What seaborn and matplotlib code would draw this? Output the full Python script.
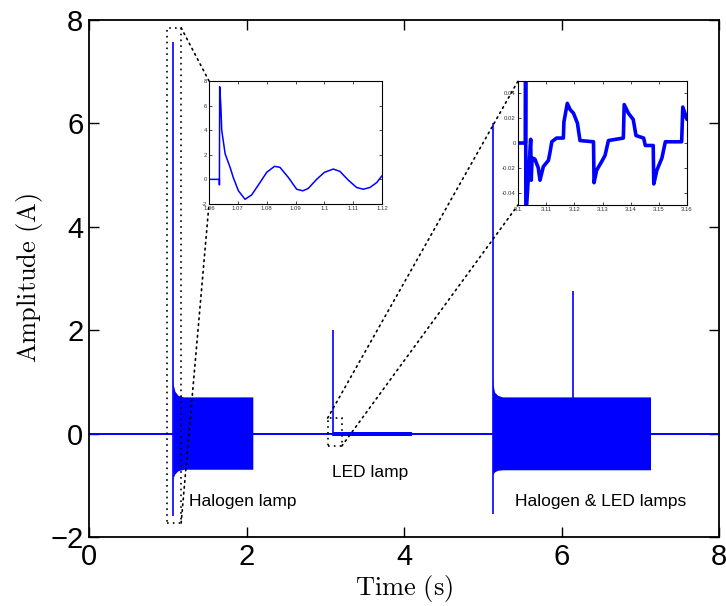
import numpy as np
import pandas as pd
import matplotlib
matplotlib.use('Agg')
import matplotlib.pyplot as plt
from matplotlib.patches import Rectangle, ConnectionPatch
import seaborn as sns

sns.set_style('ticks', {'axes.edgecolor': 'black', 'xtick.color': 'black',
                        'ytick.color': 'black', 'text.color': 'black',
                        'axes.labelcolor': 'black'})
plt.rcParams['font.family'] = ['Liberation Sans', 'DejaVu Sans']
plt.rcParams['mathtext.fontset'] = 'cm'

BLUE = '#0000ff'
DOTS = (0, (1, 2.5))

# main trace: spikes (time, low, high)
spike_t = [1.064, 3.10, 5.125, 6.14]
spike_lo = [-1.6, -0.05, -1.55, 0.0]
spike_hi = [7.57, 2.0, 6.0, 2.75]

# oscillating bands (envelopes)
halo_t = [1.064, 1.07, 1.09, 1.13, 1.2, 2.08]
halo_up = [1.05, 0.95, 0.82, 0.74, 0.71, 0.71]
halo_lo = [-0.95, -0.85, -0.78, -0.72, -0.69, -0.69]

led_t = [3.10, 4.10]
led_up = [0.04, 0.04]
led_lo = [-0.04, -0.04]

both_t = [5.125, 5.13, 5.15, 5.19, 5.25, 7.13]
both_up = [1.1, 0.95, 0.8, 0.74, 0.71, 0.71]
both_lo = [-0.8, -0.78, -0.74, -0.71, -0.70, -0.70]

# inset 1: halogen turn-on
in1_t = [1.06, 1.0636, 1.0636, 1.0637, 1.0641, 1.0644, 1.0656, 1.0673, 1.0684,
         1.0702, 1.0725, 1.0748, 1.0777, 1.08, 1.0827, 1.0846, 1.0875, 1.0904,
         1.0925, 1.0944, 1.0974, 1.10, 1.1031, 1.1054, 1.1083, 1.1112, 1.1135,
         1.1158, 1.1182, 1.12]
in1_y = [0.0, 0.0, -0.45, 7.53, 6.0, 4.0, 2.07, 0.98, 0.16,
         -0.93, -1.62, -1.26, -0.25, 0.57, 1.06, 0.98, 0.16, -0.8,
         -0.93, -0.74, 0.02, 0.57, 0.84, 0.65, -0.06, -0.66, -0.8,
         -0.66, -0.25, 0.3]

# inset 2: LED turn-on
in2_t = [3.10, 3.1026, 3.1027, 3.1028, 3.1045, 3.1047, 3.1050, 3.1060, 3.1072,
         3.1078, 3.1090, 3.1108, 3.1114, 3.1120, 3.1137, 3.1161, 3.1163, 3.1175,
         3.1185, 3.1197, 3.1211, 3.1220, 3.1268, 3.1270, 3.1279, 3.1297, 3.1309,
         3.1321, 3.1374, 3.1377, 3.1392, 3.1409, 3.1419, 3.1446, 3.1452, 3.1480,
         3.1482, 3.1493, 3.1511, 3.1523, 3.1581, 3.1585, 3.16]
in2_y = [0.0, 0.0, 0.06, -0.06, 0.003, -0.03, -0.012, -0.013, -0.02,
         -0.03, -0.019, -0.014, -0.007, 0.001, 0.004, 0.004, 0.017, 0.032,
         0.027, 0.024, 0.016, 0.002, 0.001, -0.032, -0.022, -0.015, -0.01,
         0.002, 0.004, 0.031, 0.024, 0.019, 0.006, 0.004, -0.002, -0.002,
         -0.033, -0.022, -0.012, 0.001, 0.001, 0.029, 0.019]

# zoom rectangles (x0, x1, y0, y1)
rect1 = [0.99, 1.17, -1.73, 7.85]
rect2 = [3.03, 3.21, -0.24, 0.30]

fig = plt.figure(figsize=(7.26, 6.06), dpi=100)
ax = fig.add_axes([0.1226, 0.1139, 0.8678, 0.853])

base = pd.DataFrame({'t': [0, 8], 'a': [0, 0]})
sns.lineplot(data=base, x='t', y='a', ax=ax, color=BLUE, lw=1.4,
             estimator=None, sort=False)
for bt, bu, bl in [(halo_t, halo_up, halo_lo), (led_t, led_up, led_lo),
                   (both_t, both_up, both_lo)]:
    ax.fill_between(bt, bl, bu, color=BLUE, lw=0)
ax.vlines(spike_t, spike_lo, spike_hi, color=BLUE, lw=1.2)

for r in (rect1, rect2):
    ax.add_patch(Rectangle((r[0], r[2]), r[1] - r[0], r[3] - r[2], fill=False,
                           ls=DOTS, lw=1.2, ec='black', zorder=5))

ax.set_xlim(0, 8)
ax.set_ylim(-2, 8)
ax.set_xticks([0, 2, 4, 6, 8])
ax.set_yticks([-2, 0, 2, 4, 6, 8])
ax.tick_params(direction='in', length=7, width=1, labelsize=21,
               top=True, right=True, pad=4, colors='black')
for s in ax.spines.values():
    s.set_linewidth(1.3)
    s.set_visible(True)
ax.set_xlabel(r'$\mathrm{Time\ (s)}$', fontsize=19, labelpad=2)
ax.set_ylabel(r'$\mathrm{Amplitude\ (A)}$', fontsize=19, labelpad=4)

ax.text(1.27, -1.32, 'Halogen lamp', fontsize=12.5, ha='left', va='center')
ax.text(3.57, -0.75, 'LED lamp', fontsize=12.5, ha='center', va='center')
ax.text(6.5, -1.32, 'Halogen & LED lamps', fontsize=12.5, ha='center', va='center')

# insets
ax1 = fig.add_axes([0.2879, 0.6634, 0.2383, 0.2030])
sns.lineplot(x=in1_t, y=in1_y, ax=ax1, color=BLUE, lw=1.1,
             estimator=None, sort=False)
ax1.set_xlim(1.06, 1.12)
ax1.set_ylim(-2, 8)
ax1.set_xticks([1.06, 1.07, 1.08, 1.09, 1.10, 1.11, 1.12])
ax1.set_xticklabels(['1.06', '1.07', '1.08', '1.09', '1.1', '1.11', '1.12'])
ax1.set_yticks([-2, 0, 2, 4, 6, 8])
ax1.set_yticklabels(['-2', '0', '2', '4', '6', '8'])

ax2 = fig.add_axes([0.7135, 0.6617, 0.2328, 0.2046])
sns.lineplot(x=in2_t, y=in2_y, ax=ax2, color=BLUE, lw=2.6,
             estimator=None, sort=False)
ax2.set_xlim(3.10, 3.16)
ax2.set_ylim(-0.05, 0.05)
ax2.set_xticks([3.10, 3.11, 3.12, 3.13, 3.14, 3.15, 3.16])
ax2.set_xticklabels(['3.1', '3.11', '3.12', '3.13', '3.14', '3.15', '3.16'])
ax2.set_yticks([-0.04, -0.02, 0, 0.02, 0.04])
ax2.set_yticklabels(['-0.04', '-0.02', '0', '0.02', '0.04'])

for a in (ax1, ax2):
    a.set_xlabel('')
    a.set_ylabel('')
    a.tick_params(direction='in', length=2, width=0.5, labelsize=4.3,
                  labelcolor='#333333', top=True, right=True, pad=1.5)
    for s in a.spines.values():
        s.set_linewidth(0.8)
        s.set_visible(True)

links = [((rect1[1], rect1[3]), ax1, (0, 1)), ((rect1[1], rect1[2]), ax1, (0, 0)),
         ((rect2[0], rect2[3]), ax2, (0, 1)), ((rect2[1], rect2[2]), ax2, (0, 0))]
for pa, ia, pb in links:
    con = ConnectionPatch(xyA=pa, coordsA=ax.transData, xyB=pb,
                          coordsB=ia.transAxes, ls=DOTS, lw=1.2, color='black')
    fig.add_artist(con)

fig.savefig('out.png', dpi=100)
